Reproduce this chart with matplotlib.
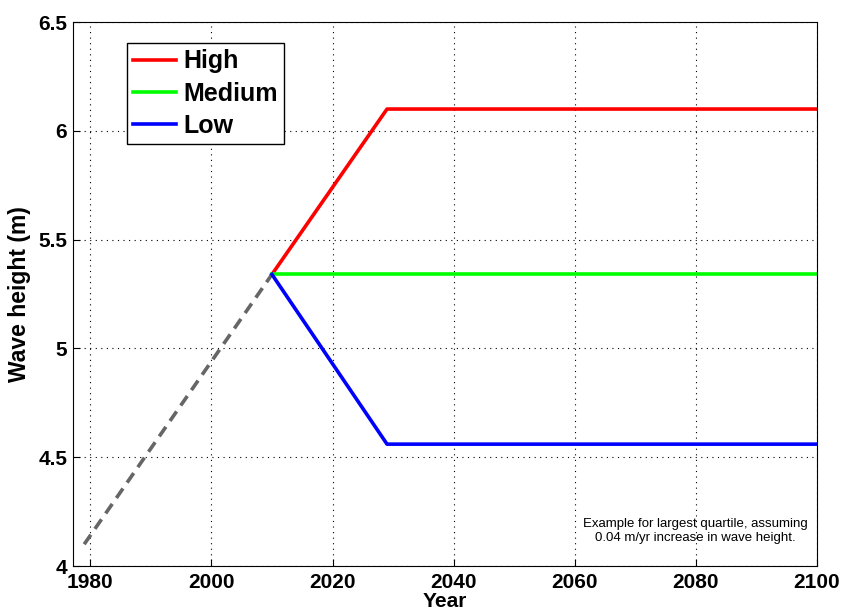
import numpy as np
import matplotlib.pyplot as plt

plt.rcParams['font.family'] = ['Liberation Sans', 'DejaVu Sans']

# historic trend (dashed) and three scenarios
hist_years = [1979, 2010]
hist_height = [4.10, 5.34]

scen_years = [2010, 2029, 2100]
high = [5.34, 6.10, 6.10]
medium = [5.34, 5.34, 5.34]
low = [5.34, 4.56, 4.56]

xticks = [1980, 2000, 2020, 2040, 2060, 2080, 2100]
yticks = [4, 4.5, 5, 5.5, 6, 6.5]
ytick_labels = ['4', '4.5', '5', '5.5', '6', '6.5']

fig = plt.figure(figsize=(8.41, 6.13), dpi=100)
ax = fig.add_axes([72.7 / 841, 1 - 566 / 613, (817 - 72.7) / 841, (566 - 22) / 613])

ax.plot(hist_years, hist_height, color='#666666', lw=2.6, dashes=(3.2, 2.0))
ax.plot(scen_years, high, color='#ff0000', lw=2.6, label='High')
ax.plot(scen_years, medium, color='#00ff00', lw=2.6, label='Medium')
ax.plot(scen_years, low, color='#0000ff', lw=2.6, label='Low')

ax.set_xlim(1977.1, 2100)
ax.set_ylim(4, 6.5)
ax.set_xticks(xticks)
ax.set_yticks(yticks)
ax.set_yticklabels(ytick_labels)
ax.grid(True, color='black', linestyle=(0, (1, 4)), linewidth=0.8)
ax.tick_params(axis='x', direction='in', length=5, labelsize=15, pad=5)
ax.tick_params(axis='y', direction='in', length=5, labelsize=15, pad=4)
for lab in ax.get_xticklabels() + ax.get_yticklabels():
    lab.set_fontweight('bold')

ax.set_xlabel('Year', fontsize=15, fontweight='bold', labelpad=0)
ax.set_ylabel('Wave height (m)', fontsize=16.5, fontweight='bold', labelpad=5)

leg = ax.legend(loc='upper left', bbox_to_anchor=(0.073, 0.961), borderaxespad=0,
                prop={'weight': 'bold', 'size': 18}, fancybox=False,
                edgecolor='black', framealpha=1, handlelength=1.7,
                handletextpad=0.3, labelspacing=0.33, borderpad=0.25)
leg.get_frame().set_linewidth(1.0)

ax.text(0.836, 0.04, 'Example for largest quartile, assuming\n0.04 m/yr increase in wave height.',
        transform=ax.transAxes, ha='center', va='bottom', fontsize=9.5, linespacing=1.25)

fig.savefig('out.png', dpi=100)
